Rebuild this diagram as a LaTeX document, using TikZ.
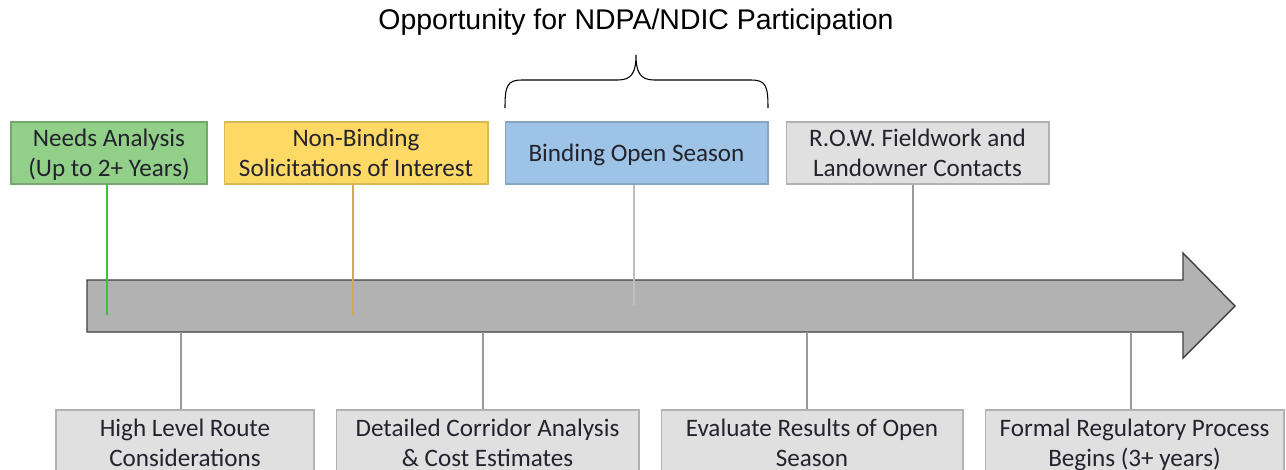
\documentclass[tikz,border=0pt]{standalone}
\usepackage{fontspec}
\setmainfont{Carlito}
\newfontfamily\titlefont{Liberation Sans}
\usepackage{tikz}

\definecolor{needsgreen}{RGB}{146,208,138}
\definecolor{nbyellow}{RGB}{255,217,102}
\definecolor{bosblue}{RGB}{157,195,230}
\definecolor{boxgrey}{RGB}{224,224,224}
\definecolor{arrowgrey}{RGB}{178,178,178}
\definecolor{txt}{RGB}{35,35,45}

\begin{document}
\begin{tikzpicture}[x=0.02cm,y=-0.02cm,
	stage/.style={draw=gray!60,semithick,align=center,inner sep=0pt,
		minimum height=1.24cm,text=txt,font=\fontsize{14.3}{17.2}\selectfont,
		text depth=0pt},
	lowstage/.style={stage,fill=boxgrey,minimum height=1.3cm},
	tick/.style={semithick,draw=gray!80}]
	\useasboundingbox (0,0) rectangle (1286,470);
	\clip (0,0) rectangle (1286,470);

	%title and brace
	\node (title) at (636,22) {\titlefont\fontsize{16.2}{19}\selectfont Opportunity for NDPA/NDIC Participation};
	\draw[semithick] (505,108) .. controls (505,86) and (507,80) .. (522,80) -- (618,80)
		.. controls (632,80) and (636,72) .. (636,55)
		.. controls (636,72) and (640,80) .. (654,80) -- (751,80)
		.. controls (766,80) and (768,86) .. (768,108);

	%time arrow
	\draw[thick,draw=black!75,fill=arrowgrey] (87,280) -- (1183,280) -- (1183,253) -- (1235,306)
		-- (1183,358) -- (1183,332) -- (87,332) -- cycle;

	%upper stages
	\node[stage,fill=needsgreen,draw=needsgreen!80!black,minimum width=3.92cm] (needs) at (109,153) {Needs Analysis\\(Up to 2+ Years)};
	\node[stage,fill=nbyellow,draw=nbyellow!85!black,minimum width=5.28cm] (nonbind) at (356,153) {Non-Binding\\Solicitations of Interest};
	\node[stage,fill=bosblue,draw=bosblue!85!black,minimum width=5.26cm] (binding) at (636.5,153) {Binding Open Season};
	\node[stage,fill=boxgrey,minimum width=5.26cm] (row) at (917.5,153) {R.O.W. Fieldwork and\\Landowner Contacts};

	\coordinate (needsend) at (107,315);
	\coordinate (nonbindend) at (353,315);
	\coordinate (bindingend) at (634,305);
	\coordinate (rowend) at (913,280);
	\draw[semithick,draw=green!45!gray] (needsend |- needs.south) -- (needsend);
	\draw[semithick,draw=nbyellow!80!black] (nonbindend |- nonbind.south) -- (nonbindend);
	\draw[semithick,draw=gray!50] (bindingend |- binding.south) -- (bindingend);
	\draw[tick] (rowend |- row.south) -- (rowend);

	%lower stages
	\node[lowstage,minimum width=5.16cm] (route) at (185,442.5) {High Level Route\\Considerations};
	\node[lowstage,minimum width=6.06cm] (corridor) at (487.5,442.5) {Detailed Corridor Analysis\\\& Cost Estimates};
	\node[lowstage,minimum width=6.04cm] (evaluate) at (812,442.5) {Evaluate Results of Open\\Season};
	\node[lowstage,minimum width=5.98cm] (formal) at (1134.5,442.5) {Formal Regulatory Process\\Begins (3+ years)};

	\coordinate (routestart) at (181,332);
	\coordinate (corridorstart) at (483,332);
	\coordinate (evaluatestart) at (807,332);
	\coordinate (formalstart) at (1131,332);
	\draw[tick] (routestart) -- (routestart |- route.north);
	\draw[tick] (corridorstart) -- (corridorstart |- corridor.north);
	\draw[tick] (evaluatestart) -- (evaluatestart |- evaluate.north);
	\draw[tick] (formalstart) -- (formalstart |- formal.north);
\end{tikzpicture}
\end{document}
